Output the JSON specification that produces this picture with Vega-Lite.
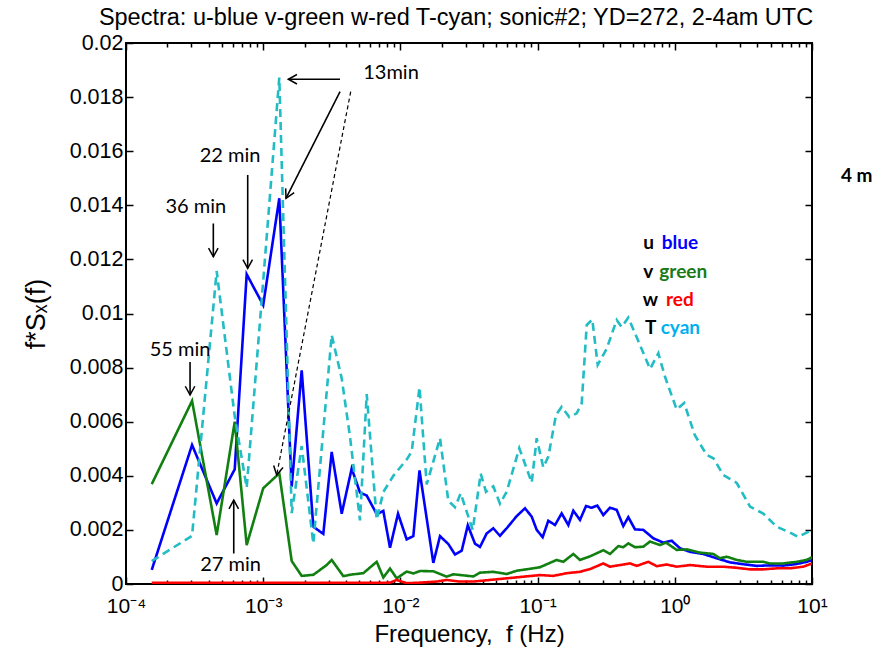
{
  "$schema": "https://vega.github.io/schema/vega-lite/v6.json",
  "width": 686,
  "height": 541,
  "autosize": {"type": "none"},
  "padding": {"left": 126, "top": 43, "right": 71, "bottom": 74},
  "background": "white",
  "config": {"view": {"stroke": "black", "strokeWidth": 2}, "font": "Liberation Sans"},
  "title": {"text": "Spectra: u-blue v-green w-red T-cyan; sonic#2; YD=272, 2-4am UTC", "fontSize": 23.5, "fontWeight": "normal", "font": "Liberation Sans", "color": "black", "offset": 3, "dx": -13},
  "datasets": {
    "spectra": [
      {"f":1.54e-4,"S":0.00052,"comp":"u"},{"f":3.03e-4,"S":0.00514,"comp":"u"},{"f":4.58e-4,"S":0.00298,"comp":"u"},{"f":6.2e-4,"S":0.00424,"comp":"u"},{"f":7.58e-4,"S":0.01145,"comp":"u"},{"f":1.0e-3,"S":0.01031,"comp":"u"},{"f":1.31e-3,"S":0.01426,"comp":"u"},{"f":1.613e-3,"S":0.0036,"comp":"u"},{"f":1.908e-3,"S":0.0079,"comp":"u"},{"f":2.319e-3,"S":0.00212,"comp":"u"},{"f":2.742e-3,"S":0.00185,"comp":"u"},{"f":3.157e-3,"S":0.00488,"comp":"u"},{"f":3.735e-3,"S":0.0026,"comp":"u"},{"f":4.416e-3,"S":0.00427,"comp":"u"},{"f":5.076e-3,"S":0.00338,"comp":"u"},{"f":5.682e-3,"S":0.00327,"comp":"u"},{"f":6.72e-3,"S":0.00258,"comp":"u"},{"f":7.51e-3,"S":0.0027,"comp":"u"},{"f":8.4e-3,"S":0.00134,"comp":"u"},{"f":9.61e-3,"S":0.0026,"comp":"u"},{"f":1.111e-2,"S":0.00165,"comp":"u"},{"f":1.242e-2,"S":0.00177,"comp":"u"},{"f":1.378e-2,"S":0.0042,"comp":"u"},{"f":1.738e-2,"S":0.00078,"comp":"u"},{"f":1.944e-2,"S":0.00177,"comp":"u"},{"f":2.234e-2,"S":0.00148,"comp":"u"},{"f":2.5e-2,"S":0.00109,"comp":"u"},{"f":2.797e-2,"S":0.00123,"comp":"u"},{"f":3.099e-2,"S":0.00217,"comp":"u"},{"f":3.498e-2,"S":0.00149,"comp":"u"},{"f":3.804e-2,"S":0.00137,"comp":"u"},{"f":4.256e-2,"S":0.00187,"comp":"u"},{"f":4.754e-2,"S":0.00206,"comp":"u"},{"f":5.318e-2,"S":0.00178,"comp":"u"},{"f":5.954e-2,"S":0.00206,"comp":"u"},{"f":7.04e-2,"S":0.00251,"comp":"u"},{"f":8.09e-2,"S":0.0028,"comp":"u"},{"f":9.06e-2,"S":0.00249,"comp":"u"},{"f":9.85e-2,"S":0.002,"comp":"u"},{"f":0.1089,"S":0.00173,"comp":"u"},{"f":0.1197,"S":0.00234,"comp":"u"},{"f":0.1339,"S":0.00218,"comp":"u"},{"f":0.1498,"S":0.00261,"comp":"u"},{"f":0.1674,"S":0.00218,"comp":"u"},{"f":0.1821,"S":0.00271,"comp":"u"},{"f":0.2037,"S":0.00237,"comp":"u"},{"f":0.2253,"S":0.00288,"comp":"u"},{"f":0.2479,"S":0.00282,"comp":"u"},{"f":0.2723,"S":0.0029,"comp":"u"},{"f":0.3012,"S":0.00255,"comp":"u"},{"f":0.337,"S":0.00282,"comp":"u"},{"f":0.3771,"S":0.00274,"comp":"u"},{"f":0.4213,"S":0.00214,"comp":"u"},{"f":0.4581,"S":0.00247,"comp":"u"},{"f":0.5128,"S":0.00202,"comp":"u"},{"f":0.5895,"S":0.002,"comp":"u"},{"f":0.6973,"S":0.00169,"comp":"u"},{"f":0.8246,"S":0.00153,"comp":"u"},{"f":0.9493,"S":0.0016,"comp":"u"},{"f":1.091,"S":0.00132,"comp":"u"},{"f":1.29,"S":0.00119,"comp":"u"},{"f":1.613,"S":0.00111,"comp":"u"},{"f":2.02,"S":0.00095,"comp":"u"},{"f":2.525,"S":0.0008,"comp":"u"},{"f":3.158,"S":0.00073,"comp":"u"},{"f":3.954,"S":0.00067,"comp":"u"},{"f":4.943,"S":0.00069,"comp":"u"},{"f":6.178,"S":0.00068,"comp":"u"},{"f":7.735,"S":0.00074,"comp":"u"},{"f":9.149,"S":0.00082,"comp":"u"},{"f":10,"S":0.00088,"comp":"u"},
      {"f":1.54e-4,"S":0.00369,"comp":"v"},{"f":3.03e-4,"S":0.00677,"comp":"v"},{"f":4.58e-4,"S":0.00181,"comp":"v"},{"f":6.2e-4,"S":0.006,"comp":"v"},{"f":7.58e-4,"S":0.00144,"comp":"v"},{"f":1.0e-3,"S":0.00354,"comp":"v"},{"f":1.31e-3,"S":0.00409,"comp":"v"},{"f":1.613e-3,"S":0.00085,"comp":"v"},{"f":1.908e-3,"S":0.0003,"comp":"v"},{"f":2.319e-3,"S":0.00034,"comp":"v"},{"f":2.9e-3,"S":0.0007,"comp":"v"},{"f":3.157e-3,"S":0.00089,"comp":"v"},{"f":3.836e-3,"S":0.00029,"comp":"v"},{"f":4.4e-3,"S":0.00035,"comp":"v"},{"f":5.365e-3,"S":0.0004,"comp":"v"},{"f":6.72e-3,"S":0.00082,"comp":"v"},{"f":7.51e-3,"S":0.00024,"comp":"v"},{"f":8.4e-3,"S":0.00057,"comp":"v"},{"f":9.4e-3,"S":0.00021,"comp":"v"},{"f":1.111e-2,"S":0.00046,"comp":"v"},{"f":1.242e-2,"S":0.00039,"comp":"v"},{"f":1.39e-2,"S":0.00048,"comp":"v"},{"f":1.738e-2,"S":0.00047,"comp":"v"},{"f":2.175e-2,"S":0.00027,"comp":"v"},{"f":2.429e-2,"S":0.00036,"comp":"v"},{"f":3.398e-2,"S":0.00028,"comp":"v"},{"f":3.804e-2,"S":0.00042,"comp":"v"},{"f":4.754e-2,"S":0.00045,"comp":"v"},{"f":5.954e-2,"S":0.00037,"comp":"v"},{"f":7.04e-2,"S":0.00049,"comp":"v"},{"f":9.3e-2,"S":0.00058,"comp":"v"},{"f":0.1041,"S":0.00062,"comp":"v"},{"f":0.1378,"S":0.00089,"comp":"v"},{"f":0.1539,"S":0.00082,"comp":"v"},{"f":0.1821,"S":0.00111,"comp":"v"},{"f":0.2037,"S":0.00089,"comp":"v"},{"f":0.2409,"S":0.00102,"comp":"v"},{"f":0.3012,"S":0.00125,"comp":"v"},{"f":0.337,"S":0.00111,"comp":"v"},{"f":0.3874,"S":0.0014,"comp":"v"},{"f":0.4213,"S":0.00136,"comp":"v"},{"f":0.4581,"S":0.0015,"comp":"v"},{"f":0.5128,"S":0.00136,"comp":"v"},{"f":0.5895,"S":0.00138,"comp":"v"},{"f":0.6597,"S":0.00157,"comp":"v"},{"f":0.7804,"S":0.00144,"comp":"v"},{"f":0.8631,"S":0.00153,"comp":"v"},{"f":1.032,"S":0.00126,"comp":"v"},{"f":1.221,"S":0.00128,"comp":"v"},{"f":1.526,"S":0.00116,"comp":"v"},{"f":1.911,"S":0.00111,"comp":"v"},{"f":2.135,"S":0.00095,"comp":"v"},{"f":2.39,"S":0.00101,"comp":"v"},{"f":2.827,"S":0.00089,"comp":"v"},{"f":3.343,"S":0.00082,"comp":"v"},{"f":4.417,"S":0.00082,"comp":"v"},{"f":4.943,"S":0.00076,"comp":"v"},{"f":6.178,"S":0.00076,"comp":"v"},{"f":7.735,"S":0.00082,"comp":"v"},{"f":9.149,"S":0.00089,"comp":"v"},{"f":10,"S":0.00099,"comp":"v"},
      {"f":1.54e-4,"S":0.00004,"comp":"w"},{"f":1e-3,"S":0.00004,"comp":"w"},{"f":5e-3,"S":0.00004,"comp":"w"},{"f":8.4e-3,"S":0.00005,"comp":"w"},{"f":9.4e-3,"S":0.00015,"comp":"w"},{"f":1.111e-2,"S":0.00003,"comp":"w"},{"f":1.39e-2,"S":0.00005,"comp":"w"},{"f":1.84e-2,"S":0.00009,"comp":"w"},{"f":2.175e-2,"S":0.00015,"comp":"w"},{"f":2.7e-2,"S":0.00009,"comp":"w"},{"f":3.4e-2,"S":0.00009,"comp":"w"},{"f":4.498e-2,"S":0.00015,"comp":"w"},{"f":5.954e-2,"S":0.00021,"comp":"w"},{"f":7.865e-2,"S":0.00027,"comp":"w"},{"f":0.1041,"S":0.00033,"comp":"w"},{"f":0.1302,"S":0.0003,"comp":"w"},{"f":0.163,"S":0.0004,"comp":"w"},{"f":0.2037,"S":0.00045,"comp":"w"},{"f":0.2409,"S":0.00055,"comp":"w"},{"f":0.3012,"S":0.00076,"comp":"w"},{"f":0.337,"S":0.00064,"comp":"w"},{"f":0.3986,"S":0.0007,"comp":"w"},{"f":0.4716,"S":0.00076,"comp":"w"},{"f":0.5278,"S":0.00067,"comp":"w"},{"f":0.6412,"S":0.00082,"comp":"w"},{"f":0.7384,"S":0.00066,"comp":"w"},{"f":0.8733,"S":0.00072,"comp":"w"},{"f":1.032,"S":0.00064,"comp":"w"},{"f":1.29,"S":0.0007,"comp":"w"},{"f":1.708,"S":0.00064,"comp":"w"},{"f":2.257,"S":0.00064,"comp":"w"},{"f":2.827,"S":0.0006,"comp":"w"},{"f":3.533,"S":0.00054,"comp":"w"},{"f":4.417,"S":0.00054,"comp":"w"},{"f":5.529,"S":0.00058,"comp":"w"},{"f":6.916,"S":0.00058,"comp":"w"},{"f":8.642,"S":0.00064,"comp":"w"},{"f":10,"S":0.00076,"comp":"w"},
      {"f":1.54e-4,"S":0.00085,"comp":"T"},{"f":3.03e-4,"S":0.00178,"comp":"T"},{"f":4.58e-4,"S":0.01157,"comp":"T"},{"f":6.2e-4,"S":0.0062,"comp":"T"},{"f":7.58e-4,"S":0.00356,"comp":"T"},{"f":1.0e-3,"S":0.0112,"comp":"T"},{"f":1.31e-3,"S":0.01872,"comp":"T"},{"f":1.613e-3,"S":0.00262,"comp":"T"},{"f":1.908e-3,"S":0.0051,"comp":"T"},{"f":2.319e-3,"S":0.0015,"comp":"T"},{"f":3.157e-3,"S":0.0092,"comp":"T"},{"f":3.735e-3,"S":0.0076,"comp":"T"},{"f":4.29e-3,"S":0.00545,"comp":"T"},{"f":5.076e-3,"S":0.00235,"comp":"T"},{"f":5.682e-3,"S":0.00702,"comp":"T"},{"f":6.72e-3,"S":0.00238,"comp":"T"},{"f":7.51e-3,"S":0.0034,"comp":"T"},{"f":8.88e-3,"S":0.004,"comp":"T"},{"f":1.111e-2,"S":0.0046,"comp":"T"},{"f":1.209e-2,"S":0.0049,"comp":"T"},{"f":1.378e-2,"S":0.00727,"comp":"T"},{"f":1.555e-2,"S":0.00368,"comp":"T"},{"f":1.944e-2,"S":0.00539,"comp":"T"},{"f":2.234e-2,"S":0.00308,"comp":"T"},{"f":2.5e-2,"S":0.00284,"comp":"T"},{"f":2.751e-2,"S":0.00335,"comp":"T"},{"f":3.365e-2,"S":0.002,"comp":"T"},{"f":3.849e-2,"S":0.00408,"comp":"T"},{"f":4.206e-2,"S":0.00341,"comp":"T"},{"f":4.754e-2,"S":0.00361,"comp":"T"},{"f":5.318e-2,"S":0.00297,"comp":"T"},{"f":5.954e-2,"S":0.00341,"comp":"T"},{"f":7.355e-2,"S":0.00502,"comp":"T"},{"f":9.06e-2,"S":0.00375,"comp":"T"},{"f":9.85e-2,"S":0.00539,"comp":"T"},{"f":0.11,"S":0.00431,"comp":"T"},{"f":0.1197,"S":0.00471,"comp":"T"},{"f":0.1362,"S":0.00625,"comp":"T"},{"f":0.1498,"S":0.00655,"comp":"T"},{"f":0.1702,"S":0.00617,"comp":"T"},{"f":0.1927,"S":0.00631,"comp":"T"},{"f":0.2097,"S":0.00668,"comp":"T"},{"f":0.228,"S":0.00957,"comp":"T"},{"f":0.2504,"S":0.00978,"comp":"T"},{"f":0.2742,"S":0.0081,"comp":"T"},{"f":0.3189,"S":0.0087,"comp":"T"},{"f":0.3771,"S":0.00976,"comp":"T"},{"f":0.4104,"S":0.0095,"comp":"T"},{"f":0.4581,"S":0.00985,"comp":"T"},{"f":0.54,"S":0.009,"comp":"T"},{"f":0.66,"S":0.00795,"comp":"T"},{"f":0.7584,"S":0.00853,"comp":"T"},{"f":0.8487,"S":0.00766,"comp":"T"},{"f":1.032,"S":0.00645,"comp":"T"},{"f":1.17,"S":0.00669,"comp":"T"},{"f":1.4,"S":0.0055,"comp":"T"},{"f":1.708,"S":0.00477,"comp":"T"},{"f":1.911,"S":0.00465,"comp":"T"},{"f":2.257,"S":0.00403,"comp":"T"},{"f":2.827,"S":0.00374,"comp":"T"},{"f":3.533,"S":0.00286,"comp":"T"},{"f":4.417,"S":0.0026,"comp":"T"},{"f":5.529,"S":0.00212,"comp":"T"},{"f":6.721,"S":0.00193,"comp":"T"},{"f":7.943,"S":0.00174,"comp":"T"},{"f":10,"S":0.002,"comp":"T"}
    ],
    "notes": [
      {"f":2.475e-4,"S":0.00865,"label":"55 min"},
      {"f":3.226e-4,"S":0.01395,"label":"36 min"},
      {"f":5.73e-4,"S":0.01582,"label":"22 min"},
      {"f":8.54e-3,"S":0.0189,"label":"13min"},
      {"f":5.78e-4,"S":0.0007,"label":"27 min"}
    ],
    "arrows": [
      {"f1":2.93e-4,"S1":0.00821,"f2":2.93e-4,"S2":0.00699,"style":"solid"},
      {"f1":4.33e-4,"S1":0.01333,"f2":4.33e-4,"S2":0.0121,"style":"solid"},
      {"f1":7.71e-4,"S1":0.01512,"f2":7.71e-4,"S2":0.01167,"style":"solid"},
      {"f1":3.63e-3,"S1":0.01866,"f2":1.524e-3,"S2":0.01866,"style":"solid"},
      {"f1":3.63e-3,"S1":0.0182,"f2":1.466e-3,"S2":0.01426,"style":"solid"},
      {"f1":4.343e-3,"S1":0.0182,"f2":1.254e-3,"S2":0.00403,"style":"dashed"},
      {"f1":6.1e-4,"S1":0.00113,"f2":6.1e-4,"S2":0.0031,"style":"solid"}
    ],
    "heads": [
      {"f":2.93e-4,"S":0.00699,"ang":0},
      {"f":4.33e-4,"S":0.0121,"ang":0},
      {"f":7.71e-4,"S":0.01167,"ang":0},
      {"f":1.524e-3,"S":0.01866,"ang":90},
      {"f":1.466e-3,"S":0.01426,"ang":27},
      {"f":1.254e-3,"S":0.00403,"ang":11},
      {"f":6.1e-4,"S":0.0031,"ang":180}
    ],
    "keyletters": [
      {"f":0.5895,"S":0.0126,"label":"u"},
      {"f":0.5895,"S":0.01155,"label":"v"},
      {"f":0.5834,"S":0.0105,"label":"w"},
      {"f":0.6067,"S":0.00945,"label":"T"}
    ],
    "keywords": [
      {"f":0.8027,"S":0.0126,"label":"blue","comp":"u"},
      {"f":0.7709,"S":0.01155,"label":"green","comp":"v"},
      {"f":0.8631,"S":0.0105,"label":"red","comp":"w"},
      {"f":0.7894,"S":0.00945,"label":"cyan","comp":"T"}
    ],
    "height_note": [
      {"f":21.17,"S":0.01508,"label":"4 m"}
    ]
  },
  "resolve": {"scale": {"color": "independent", "strokeDash": "independent"}},
  "layer": [
    {
      "data": {"name": "spectra"},
      "mark": {"type": "line", "strokeWidth": 2.6, "clip": true},
      "encoding": {
        "x": {"field": "f", "type": "quantitative", "scale": {"type": "log", "domain": [0.0001, 10], "nice": false},
          "axis": {"orient": "bottom", "values": [0.0001,0.0002,0.0003,0.0004,0.0005,0.0006,0.0007,0.0008,0.0009,0.001,0.002,0.003,0.004,0.005,0.006,0.007,0.008,0.009,0.01,0.02,0.03,0.04,0.05,0.06,0.07,0.08,0.09,0.1,0.2,0.3,0.4,0.5,0.6,0.7,0.8,0.9,1,2,3,4,5,6,7,8,9,10],
            "labelExpr": "datum.value == 0.0001 ? '10⁻⁴' : datum.value == 0.001 ? '10⁻³' : datum.value == 0.01 ? '10⁻²' : datum.value == 0.1 ? '10⁻¹' : datum.value == 1 ? '10⁰' : datum.value == 10 ? '10¹' : ''",
            "tickSize": {"condition": {"test": "indexof([0.0001,0.001,0.01,0.1,1,10], datum.value) >= 0", "value": -7}, "value": -4},
            "tickColor": "black", "tickWidth": 1.5, "domain": false, "grid": false,
            "labelFontSize": 21, "labelFont": "Liberation Sans", "labelColor": "black", "labelPadding": 18, "labelFlush": false, "labelOverlap": false, "labelBound": false,
            "title": "Frequency, \u00a0f (Hz)", "titleFont": "Liberation Sans", "titleFontSize": 24, "titleFontWeight": "normal", "titleColor": "black", "titlePadding": 3}},
        "y": {"field": "S", "type": "quantitative", "scale": {"domain": [0, 0.02], "nice": false},
          "axis": {"orient": "left", "values": [0,0.002,0.004,0.006,0.008,0.01,0.012,0.014,0.016,0.018,0.02], "format": "~g",
            "tickSize": -7, "tickColor": "black", "tickWidth": 1.5, "domain": false, "grid": false,
            "labelFontSize": 21.5, "labelFont": "Liberation Sans", "labelColor": "black", "labelPadding": 10, "labelFlush": false, "labelOverlap": false,
            "title": "f*Sₓ(f)", "titleFont": "Liberation Sans", "titleFontSize": 27, "titleFontWeight": "normal", "titleColor": "black", "titlePadding": 19}},
        "color": {"field": "comp", "type": "nominal", "scale": {"domain": ["u","v","w","T"], "range": ["#0000ff","#118011","#ff0000","#22bcc4"]}, "legend": null},
        "strokeDash": {"field": "comp", "type": "nominal", "scale": {"domain": ["u","v","w","T"], "range": [[1,0],[1,0],[1,0],[8,5]]}, "legend": null}
      }
    },
    {
      "data": {"name": "notes"},
      "mark": {"type": "text", "font": "Lato", "fontSize": 20, "color": "black", "align": "center", "baseline": "middle"},
      "encoding": {
        "x": {"field": "f", "type": "quantitative", "scale": {"type": "log", "domain": [0.0001, 10], "nice": false},
          "axis": {"orient": "top", "values": [0.0001,0.0002,0.0003,0.0004,0.0005,0.0006,0.0007,0.0008,0.0009,0.001,0.002,0.003,0.004,0.005,0.006,0.007,0.008,0.009,0.01,0.02,0.03,0.04,0.05,0.06,0.07,0.08,0.09,0.1,0.2,0.3,0.4,0.5,0.6,0.7,0.8,0.9,1,2,3,4,5,6,7,8,9,10],
            "labels": false, "tickSize": {"condition": {"test": "indexof([0.0001,0.001,0.01,0.1,1,10], datum.value) >= 0", "value": -7}, "value": -4},
            "tickColor": "black", "tickWidth": 1.5, "domain": false, "grid": false, "title": null}},
        "y": {"field": "S", "type": "quantitative", "scale": {"domain": [0, 0.02], "nice": false},
          "axis": {"orient": "right", "values": [0,0.002,0.004,0.006,0.008,0.01,0.012,0.014,0.016,0.018,0.02],
            "labels": false, "tickSize": -7, "tickColor": "black", "tickWidth": 1.5, "domain": false, "grid": false, "title": null}},
        "text": {"field": "label", "type": "nominal"}
      }
    },
    {
      "data": {"name": "arrows"},
      "mark": {"type": "rule", "color": "black"},
      "encoding": {
        "x": {"field": "f1", "type": "quantitative", "scale": {"type": "log", "domain": [0.0001, 10], "nice": false}, "axis": null},
        "y": {"field": "S1", "type": "quantitative", "scale": {"domain": [0, 0.02], "nice": false}, "axis": null},
        "x2": {"field": "f2"},
        "y2": {"field": "S2"},
        "strokeDash": {"field": "style", "type": "nominal", "scale": {"domain": ["solid","dashed"], "range": [[1,0],[4,3]]}, "legend": null},
        "strokeWidth": {"field": "style", "type": "nominal", "scale": {"domain": ["solid","dashed"], "range": [1.6,1.2]}, "legend": null}
      }
    },
    {
      "data": {"name": "heads"},
      "mark": {"type": "point", "shape": "M-0.55,-1L0,0L0.55,-1", "filled": false, "stroke": "black", "strokeWidth": 1.5, "size": 300, "opacity": 1},
      "encoding": {
        "x": {"field": "f", "type": "quantitative", "scale": {"type": "log", "domain": [0.0001, 10], "nice": false}, "axis": null},
        "y": {"field": "S", "type": "quantitative", "scale": {"domain": [0, 0.02], "nice": false}, "axis": null},
        "angle": {"field": "ang", "type": "quantitative", "scale": null}
      }
    },
    {
      "data": {"name": "keyletters"},
      "mark": {"type": "text", "font": "Lato", "fontSize": 19, "fontWeight": "bold", "color": "black", "align": "left", "baseline": "middle"},
      "encoding": {
        "x": {"field": "f", "type": "quantitative", "scale": {"type": "log", "domain": [0.0001, 10], "nice": false}, "axis": null},
        "y": {"field": "S", "type": "quantitative", "scale": {"domain": [0, 0.02], "nice": false}, "axis": null},
        "text": {"field": "label", "type": "nominal"}
      }
    },
    {
      "data": {"name": "keywords"},
      "mark": {"type": "text", "font": "Lato", "fontSize": 19, "fontWeight": "bold", "align": "left", "baseline": "middle"},
      "encoding": {
        "x": {"field": "f", "type": "quantitative", "scale": {"type": "log", "domain": [0.0001, 10], "nice": false}, "axis": null},
        "y": {"field": "S", "type": "quantitative", "scale": {"domain": [0, 0.02], "nice": false}, "axis": null},
        "text": {"field": "label", "type": "nominal"},
        "color": {"field": "comp", "type": "nominal", "scale": {"domain": ["u","v","w","T"], "range": ["#0000ff","#1a7a1a","#ff0000","#00b0f0"]}, "legend": null}
      }
    },
    {
      "data": {"name": "height_note"},
      "mark": {"type": "text", "font": "Lato", "fontSize": 19, "fontWeight": "bold", "color": "black", "align": "center", "baseline": "middle"},
      "encoding": {
        "x": {"field": "f", "type": "quantitative", "scale": {"type": "log", "domain": [0.0001, 10], "nice": false}, "axis": null},
        "y": {"field": "S", "type": "quantitative", "scale": {"domain": [0, 0.02], "nice": false}, "axis": null},
        "text": {"field": "label", "type": "nominal"}
      }
    }
  ]
}
